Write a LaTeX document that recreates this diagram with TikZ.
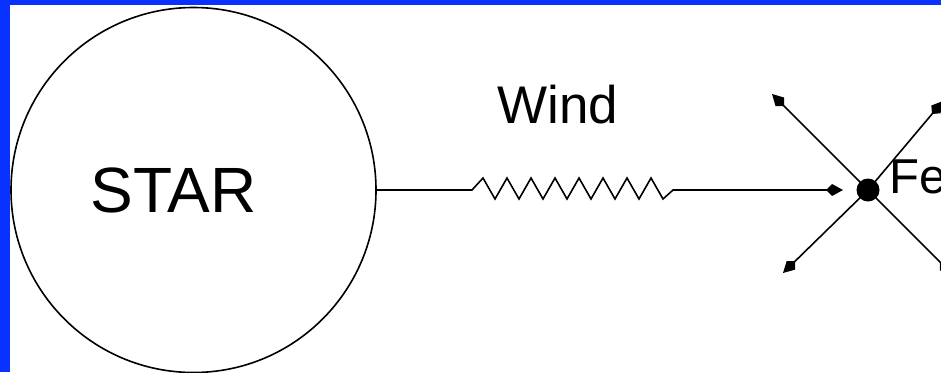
\documentclass[tikz,border=0pt]{standalone}
\usepackage{fontspec}
\setmainfont{Liberation Sans}
\usetikzlibrary{arrows.meta}
\definecolor{frameblue}{HTML}{0A32FF}
\begin{document}
\begin{tikzpicture}[x=1pt,y=-1pt,
  line/.style={line width=1.6pt,black},
  tip/.style={-{Kite[length=17pt,width=12pt,inset=6pt]}},
  lbl/.style={inner sep=0pt,anchor=base}]
\useasboundingbox (0,0) rectangle (941,372);
\clip (0,0) rectangle (941,372);
\fill[white] (0,0) rectangle (941,372);
\fill[frameblue] (0,0) rectangle (941,5);
\fill[frameblue] (0,0) rectangle (10,372);
% star
\node[circle,draw,line,minimum size=365pt,inner sep=0pt] (star) at (193.5,190) {};
\node[lbl,font=\fontsize{64}{64}\selectfont] (startxt) at (173.5,212) {STAR};
% wind label
\node[lbl,font=\fontsize{53}{53}\selectfont] (wind) at (558,123) {Wind};
% Fe dot
\node[circle,fill=black,minimum size=23pt,inner sep=0pt] (fe) at (868,190) {};
\node[lbl,anchor=base west,font=\fontsize{49}{49}\selectfont] (fetxt) at (889,193) {Fe};
% coordinates
\coordinate (zs) at (472,190);
\coordinate (ze) at (673,190);
\coordinate (feIn) at (843,190);
\coordinate (ul) at (772,94);
\coordinate (ll) at (783,273);
\coordinate (ur) at (943,101);
\coordinate (lr) at (952,274);
% wind connector with spring
\draw[line,tip] (star.east) -- (zs)
  -- ++(11,-12)
  \foreach \i in {0,...,6}{ -- ++(12,21) -- ++(12,-21) }
  -- ++(12,21) -- (ze) -- (feIn);
% outgoing arrows
\draw[line,tip] (fe.center) -- (ul);
\draw[line,tip] (fe.center) -- (ll);
\draw[line,tip] (fe.center) -- (ur);
\draw[line,tip] (fe.center) -- (lr);
\end{tikzpicture}
\end{document}
